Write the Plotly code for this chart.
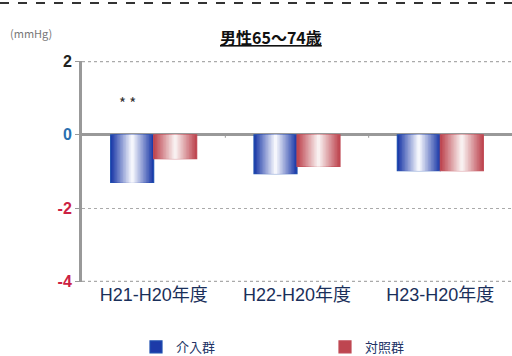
import plotly.graph_objects as go

categories = ["H21-H20年度", "H22-H20年度", "H23-H20年度"]
intervention = [-1.3, -1.06, -0.98]   # 介入群
control = [-0.65, -0.86, -0.98]       # 対照群
series_names = ["介入群", "対照群"]
ytick_vals = [2, 0, -2, -4]
ytick_text = ["2", "0", "-2", "-4"]
ytick_colors = ["#222222", "#2a6fb0", "#cc2244", "#cc2244"]

x_idx = list(range(len(categories)))
bar_w = 0.30
N = 14

def lerp(c1, c2, t):
    return "rgb(%d,%d,%d)" % tuple(round(a + (b - a) * t) for a, b in zip(c1, c2))

fig = go.Figure()
specs = [
    (intervention, series_names[0], (28, 58, 168), (245, 246, 252), -bar_w / 2, "#1f4fb0"),
    (control, series_names[1], (190, 70, 80), (248, 240, 240), bar_w / 2, "#c04a55"),
]
for vals, name, dark, light, center, outline in specs:
    for k in range(N):
        t = k / (N - 1)
        w = bar_w * (1 - k / N)
        fig.add_trace(go.Bar(
            x=x_idx, y=vals, width=[w] * len(vals),
            offset=[center - w / 2] * len(vals),
            marker=dict(color=lerp(dark, light, t),
                        line=dict(width=1.2 if k == 0 else 0, color=outline)),
            name=name, showlegend=(k == 0), legendgroup=name,
            hoverinfo="skip",
        ))

PH = 356 - 61 - 74
fig.update_layout(
    width=512, height=356,
    margin=dict(l=82, r=0, t=61, b=74, autoexpand=False),
    paper_bgcolor="white", plot_bgcolor="white",
    barmode="overlay",
    font=dict(family="Noto Sans CJK JP, Arial", color="#222"),
    showlegend=True,
    legend=dict(orientation="h", x=(136 - 82) / 430, xanchor="left",
                yref="container", y=9 / 356, yanchor="middle",
                font=dict(size=13, color="#223366"), entrywidth=144, itemwidth=30,
                traceorder="normal", bgcolor="rgba(0,0,0,0)"),
    xaxis=dict(range=[-0.5, 2.5], tickvals=x_idx, ticktext=categories,
               showgrid=False, zeroline=False, showline=False, ticklen=0,
               tickfont=dict(size=18, color="#1a2f5a", family="Arial, Noto Sans CJK JP")),
    yaxis=dict(range=[-4.015, 2.015], tickvals=ytick_vals,
               ticktext=[f"<span style='color:{c}'><b>{t}</b></span>" for t, c in zip(ytick_text, ytick_colors)],
               tickfont=dict(size=16, family="Arial"),
               showgrid=True, gridcolor="#aaa", griddash="dot", gridwidth=1.2,
               zeroline=True, zerolinecolor="#999", zerolinewidth=3,
               showline=True, linecolor="#999", linewidth=3,
               ticks="outside", ticklen=4, tickcolor="#999"),
)

# dotted border lines at the top and bottom tick values
for yv in (ytick_vals[0], ytick_vals[-1]):
    fig.add_shape(type="line", xref="paper", yref="y", x0=0, x1=1, y0=yv, y1=yv,
                  line=dict(color="#aaa", width=1.5, dash="dot"), layer="below")

# category separator ticks on zero line
for b in [0.5, 1.5]:
    fig.add_shape(type="line", x0=b, x1=b, y0=0, y1=-0.08, xref="x", yref="y",
                  line=dict(color="#999", width=1))

fig.add_annotation(text="<b><u>男性65～74歳</u></b>", x=(271 - 82) / 430, xref="paper",
                   y=1 + (61 - 37) / PH, yref="paper", yanchor="middle",
                   showarrow=False, font=dict(size=16, color="#111"))
fig.add_annotation(text="(mmHg)", xref="paper", yref="paper", x=(8 - 82) / 430, xanchor="left",
                   y=1 + (61 - 33) / PH, yanchor="middle", showarrow=False,
                   font=dict(size=11, color="#777"))
fig.add_annotation(text="* *", x=0 - bar_w / 2 - 0.03, xref="x", y=0.88, yref="y",
                   yanchor="middle", showarrow=False, font=dict(size=15, color="#333"))
# dashed decoration line at top
fig.add_shape(type="line", xref="paper", yref="paper", x0=-82 / 430, x1=1,
              y0=1 + (61 - 3) / PH, y1=1 + (61 - 3) / PH,
              line=dict(color="#333", width=2, dash="dash"))

fig.write_html("out.html")
